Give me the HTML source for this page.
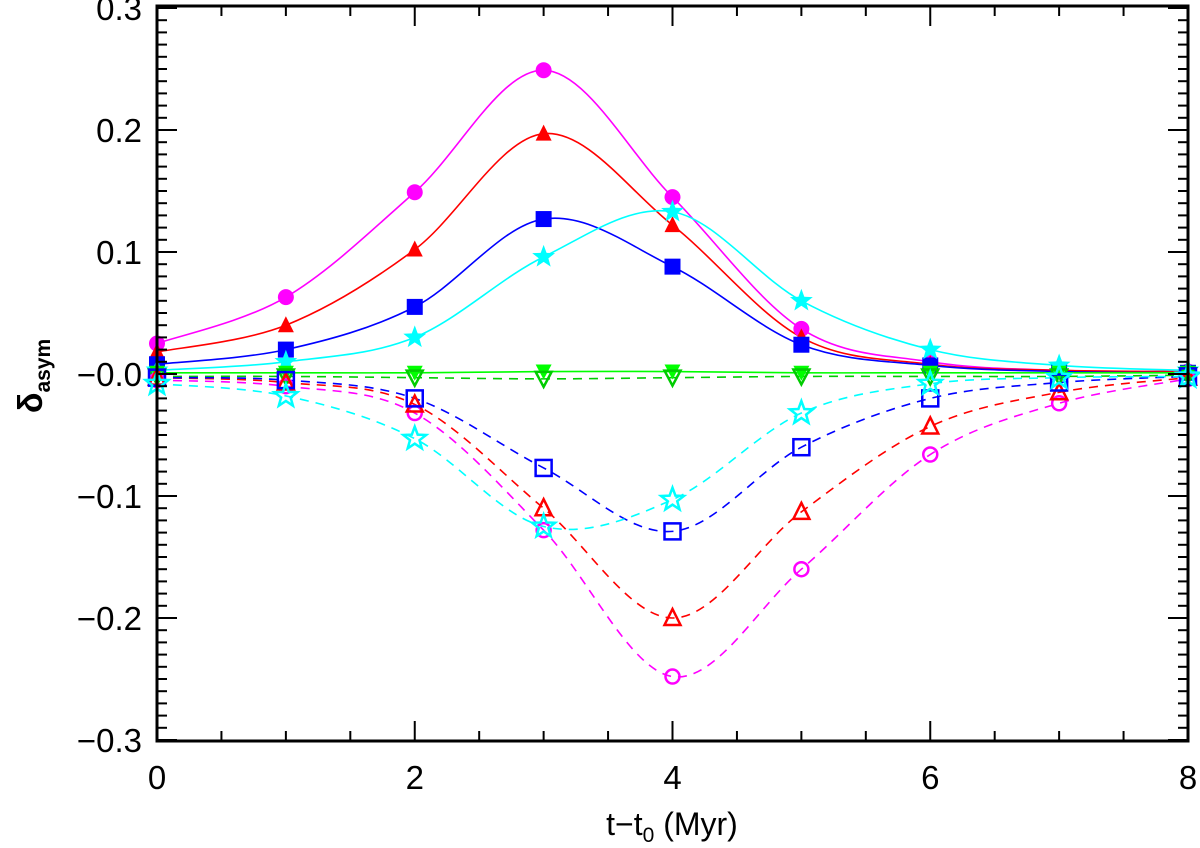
<!DOCTYPE html>
<html><head><meta charset="utf-8"><style>
html,body{margin:0;padding:0;background:#fff;}
svg{display:block;font-family:"Liberation Sans",sans-serif;}
</style></head><body>
<svg id="chart" width="1200" height="848" viewBox="0 0 1200 848" xmlns="http://www.w3.org/2000/svg">
<g id="grid"></g><g id="lines"></g><g id="marks"></g><g id="axes"></g>
</svg>
<script>
const times = [0,1,2,3,4,5,6,7,8];
const magentaFilled = [0.025,0.063,0.149,0.249,0.145,0.037,0.010,0.003,0.002];
const redFilled = [0.018,0.040,0.102,0.197,0.122,0.030,0.008,0.003,0.002];
const blueFilled = [0.008,0.020,0.055,0.127,0.088,0.024,0.007,0.002,0.001];
const cyanFilled = [0.003,0.010,0.030,0.096,0.133,0.060,0.020,0.007,0.003];
const greenFilled = [0.001,0.001,0.001,0.002,0.002,0.001,0.001,0.001,0.001];
const magentaOpen = [-0.005,-0.010,-0.032,-0.128,-0.248,-0.160,-0.066,-0.024,-0.004];
const redOpen = [-0.003,-0.007,-0.025,-0.110,-0.200,-0.113,-0.043,-0.015,-0.003];
const blueOpen = [-0.003,-0.005,-0.020,-0.077,-0.129,-0.060,-0.020,-0.007,-0.002];
const cyanOpen = [-0.008,-0.018,-0.053,-0.125,-0.103,-0.032,-0.008,-0.003,-0.002];
const greenOpen = [-0.002,-0.002,-0.003,-0.004,-0.003,-0.002,-0.002,-0.002,-0.001];
const xTicks = [0,2,4,6,8];
const yTicks = [0.3,0.2,0.1,0.0,-0.1,-0.2,-0.3];
const yTickLabels = ["0.3","0.2","0.1","\u22120.0","\u22120.1","\u22120.2","\u22120.3"];

const L=157,R=1188,T=6,B=741;
const X = v => L + (v-0)/(8-0)*(R-L);
const Y = v => 374 - v*1220;
const NS="http://www.w3.org/2000/svg";
function mk(tag, parent, attrs){const e=document.createElementNS(NS,tag);for(const k in attrs)e.setAttribute(k,attrs[k]);document.getElementById(parent).appendChild(e);return e;}

function pathFor(ys){
  const p=times.map((t,i)=>[X(t),Y(ys[i])]);
  let d=`M${p[0][0]},${p[0][1]}`;
  for(let i=0;i<p.length-1;i++){
    const p0=p[Math.max(0,i-1)],p1=p[i],p2=p[i+1],p3=p[Math.min(p.length-1,i+2)];
    const c1=[p1[0]+(p2[0]-p0[0])/6,p1[1]+(p2[1]-p0[1])/6];
    const c2=[p2[0]-(p3[0]-p1[0])/6,p2[1]-(p3[1]-p1[1])/6];
    d+=` C${c1[0]},${c1[1]} ${c2[0]},${c2[1]} ${p2[0]},${p2[1]}`;
  }
  return d;
}
function marker(shape,x,y,color,filled,name){
  const f=filled?color:"none", sw=filled?0:2.5;
  let e;
  if(shape==="circle") e=mk("circle","marks",{cx:x,cy:y,r:filled?8:7,fill:f,stroke:color,"stroke-width":sw});
  else if(shape==="square") e=mk("rect","marks",{x:x-8,y:y-8,width:16,height:16,fill:f,stroke:color,"stroke-width":sw});
  else if(shape==="tri") e=mk("polygon","marks",{points:`${x},${y-9} ${x+8},${y+7} ${x-8},${y+7}`,fill:f,stroke:color,"stroke-width":sw});
  else if(shape==="dtri") e=mk("polygon","marks",{points:`${x},${y+8} ${x+8},${y-7} ${x-8},${y-7}`,fill:f,stroke:color,"stroke-width":sw});
  else { let pts=[];for(let k=0;k<10;k++){const r=k%2?5:12,a=-Math.PI/2+k*Math.PI/5;pts.push(`${x+r*Math.cos(a)},${y+r*Math.sin(a)}`);}
    e=mk("polygon","marks",{points:pts.join(" "),fill:f,stroke:color,"stroke-width":sw}); }
  
  
}
const series=[
 [magentaFilled,"#ff00ff","circle",true,"magenta-filled"],
 [redFilled,"#ff0000","tri",true,"red-filled"],
 [blueFilled,"#0000ff","square",true,"blue-filled"],
 [cyanFilled,"#00ffff","star",true,"cyan-filled"],
 [greenFilled,"#00ff00","dtri",true,"green-filled"],
 [greenOpen,"#00cc00","dtri",false,"green-open"],
 [magentaOpen,"#ff00ff","circle",false,"magenta-open"],
 [redOpen,"#ff0000","tri",false,"red-open"],
 [blueOpen,"#0000ff","square",false,"blue-open"],
 [cyanOpen,"#00ffff","star",false,"cyan-open"]
];
series.forEach(s=>{
  const ln=mk("path","lines",{d:pathFor(s[0]),fill:"none",stroke:s[1],"stroke-width":1.6,"stroke-dasharray":s[3]?"none":"9,7"});
  
  
  times.forEach((t,i)=>marker(s[2],X(t),Y(s[0][i]),s[1],s[3],s[4]+'-point'));
});
const fr=mk("rect","axes",{x:L,y:T,width:R-L,height:B-T,fill:"none",stroke:"#000","stroke-width":3});


for(let v=0;v<=8.001;v+=0.5){
  const maj=Math.abs(v%2)<1e-6, len=maj?20:10;
  mk("line","axes",{x1:X(v),x2:X(v),y1:B,y2:B-len,stroke:"#000","stroke-width":2});
  mk("line","axes",{x1:X(v),x2:X(v),y1:T,y2:T+len,stroke:"#000","stroke-width":2});
}
xTicks.forEach(v=>{const t=mk("text","axes",{x:X(v),y:789,"text-anchor":"middle","font-size":33});t.textContent=v;
  
  });
for(let k=-30;k<=30;k++){
  const v=k/100, maj=k%10===0, len=maj?20:10;
  mk("line","axes",{x1:L,x2:L+len,y1:Y(v),y2:Y(v),stroke:"#000","stroke-width":2});
  mk("line","axes",{x1:R,x2:R-len,y1:Y(v),y2:Y(v),stroke:"#000","stroke-width":2});
}
yTicks.forEach((v,i)=>{const t=mk("text","axes",{x:142,y:Y(v)+12,"text-anchor":"end","font-size":33});t.textContent=yTickLabels[i];
  
  });
const xt=mk("text","axes",{x:672,y:835,"text-anchor":"middle","font-size":32});
xt.innerHTML='t\u2212t<tspan font-size="21" dy="7">0</tspan><tspan dy="-7"> (Myr)</tspan>';


const yt=mk("text","axes",{x:0,y:0,"text-anchor":"middle","font-size":34,"font-weight":"bold",transform:"translate(42,376) rotate(-90)"});
yt.innerHTML='δ<tspan font-size="21" dy="8" font-weight="bold">asym</tspan>';


</script>
</body></html>
